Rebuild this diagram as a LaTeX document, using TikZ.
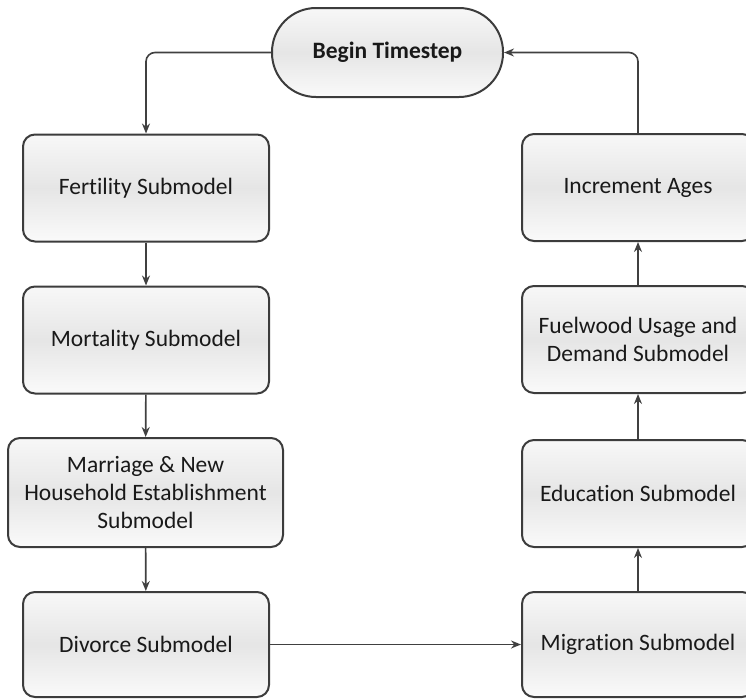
\documentclass[tikz,border=0pt]{standalone}
\usepackage{fontspec}
\setmainfont{Carlito}[Ligatures=NoCommon]
\usetikzlibrary{arrows.meta}
\definecolor{edge}{HTML}{3C3C3C}
\definecolor{arr}{HTML}{404040}
\tikzset{
  procbox/.style={draw=edge, line width=2pt, rounded corners=12pt,
    top color=black!3, bottom color=black!2, middle color=black!10,
    minimum width=246pt, minimum height=107pt, inner sep=0pt, align=center,
    font=\fontsize{23.5}{28}\selectfont, text=black!90},
  startbox/.style={procbox, rounded corners=44pt, minimum width=231pt, minimum height=89pt,
    font=\fontsize{23.5}{28}\selectfont\bfseries},
  flow/.style={draw=arr, line width=1.6pt, -{Stealth[length=10pt,width=8pt]}}
}
\begin{document}
\begin{tikzpicture}[x=1pt,y=-1pt]
\useasboundingbox (0,0) rectangle (746,699);
\clip (0,0) rectangle (746,699);
\node[startbox] (begin) at (387.5,52.5) {Begin Timestep};
\node[procbox] (fert) at (146,188) {Fertility Submodel};
\node[procbox] (mort) at (146,340) {Mortality Submodel};
\node[procbox, minimum width=275pt, minimum height=109pt] (marr) at (145.5,492.5) {Marriage \& New\\Household Establishment\\Submodel};
\node[procbox, minimum height=105pt] (div) at (146,644.5) {Divorce Submodel};
\node[procbox, minimum width=232pt] (inc) at (638,187.5) {Increment Ages};
\node[procbox, minimum width=232pt] (fuel) at (638,339.5) {Fuelwood Usage and\\Demand Submodel};
\node[procbox, minimum width=232pt] (edu) at (638,493.5) {Education Submodel};
\node[procbox, minimum width=232pt, minimum height=105pt] (mig) at (638,644.5) {Migration Submodel};
\draw[flow, rounded corners=9pt] (begin.west) -| (fert.north);
\draw[flow] (fert) -- (mort);
\draw[flow] (mort) -- (marr);
\draw[flow] (marr) -- (div);
\draw[flow] (div) -- (mig);
\draw[flow] (mig) -- (edu);
\draw[flow] (edu) -- (fuel);
\draw[flow] (fuel) -- (inc);
\draw[flow, rounded corners=9pt] (inc.north) |- (begin.east);
\end{tikzpicture}
\end{document}
